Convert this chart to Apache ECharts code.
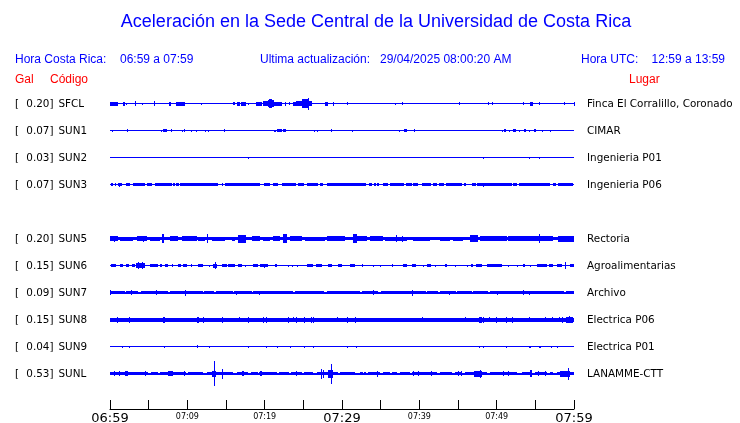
<!DOCTYPE html>
<html><head><meta charset="utf-8">
<script src="https://cdn.jsdelivr.net/npm/echarts@6/dist/echarts.min.js"></script>
<style>html,body{margin:0;padding:0;background:#fff}#c{width:740px;height:423px}</style>
</head><body><div id="c"></div><script>
// ---------- data ----------
const codes   = ['SFCL','SUN1','SUN2','SUN3','SUN4','SUN5','SUN6','SUN7','SUN8','SUN9','SUNL'];
const peakGal = [0.20, 0.07, 0.03, 0.07, null, 0.20, 0.15, 0.09, 0.15, 0.04, 0.53];
const places  = ['Finca El Corralillo, Coronado','CIMAR','Ingenieria P01','Ingenieria P06','','Rectoria','Agroalimentarias','Archivo','Electrica P06','Electrica P01','LANAMME-CTT'];
const tickLabels = ['06:59','','07:09','','07:19','','07:29','','07:39','','07:49','','07:59'];
// continuous background half-amplitude of each trace (Gal, display scale); null = no trace
const baseAmp = [0.022, 0.022, 0.022, 0.025, null, 0.065, 0.025, 0.045, 0.09, 0.022, 0.035];
// envelope events: [startMinute, endMinute, halfAmplitude] (minutes after 06:59)
const evSFCL = [[0,1.03,0.08],[1.68,1.94,0.08],[2.07,2.07,0.05],[3.23,3.23,0.1],[4.18,4.18,0.04],[5.73,5.73,0.1],[7.67,7.9,0.08],[8.53,9.7,0.09],[11.77,11.77,0.04],[15.87,16.16,0.06],[16.46,16.8,0.08],[16.94,17.59,0.08],[17.89,17.89,0.04],[18.84,19.62,0.09],[19.79,20.39,0.1],[20.39,20.6,0.16],[20.6,21.0,0.2],[21.0,21.25,0.15],[21.25,22.24,0.09],[22.63,22.63,0.08],[23.19,23.19,0.07],[23.63,24.05,0.09],[24.05,24.83,0.12],[24.83,25.73,0.19],[25.6,25.6,0.26],[25.73,26.08,0.1],[27.8,28.15,0.08],[28.8,28.8,0.08],[30.65,30.65,0.07],[36.85,36.85,0.04],[37.76,37.76,0.07],[45.13,45.13,0.07],[48.88,48.88,0.06],[49.4,49.4,0.07],[53.4,53.4,0.07],[54.31,54.7,0.09],[55.48,55.48,0.07],[58.71,58.71,0.07],[60,60,0.08]];
const evSUN1 = [[0.3,0.3,0.04],[2.24,2.24,0.06],[6.6,6.76,0.05],[6.85,7.37,0.065],[7.93,7.93,0.06],[9.35,9.35,0.05],[9.61,9.61,0.06],[10.51,10.51,0.05],[11.12,11.12,0.04],[12.32,12.32,0.05],[12.71,12.71,0.04],[14.78,14.78,0.06],[21.25,21.43,0.05],[21.63,22.2,0.065],[22.37,22.76,0.065],[26.42,26.42,0.04],[26.81,26.81,0.04],[28.62,28.62,0.06],[31.33,31.33,0.04],[37.41,37.41,0.04],[38.06,38.37,0.065],[39.27,39.27,0.075],[50.65,50.65,0.04],[50.91,51.21,0.065],[51.6,51.6,0.05],[52.07,52.46,0.065],[52.92,52.92,0.04],[53.54,53.79,0.06],[54.18,54.18,0.05],[54.83,55.05,0.06],[55.9,55.9,0.04],[56.94,56.94,0.05]];
const evSUN2 = [[17.8,17.8,0.045],[26.3,26.3,0.03],[48.27,48.27,0.045],[54.2,54.35,0.035],[55.5,55.65,0.035]];
const evSUN3 = [[0.09,0.43,0.065],[0.65,0.78,0.065],[0.99,1.59,0.065],[2.03,2.59,0.065],[2.93,4.53,0.065],[4.74,5.39,0.065],[5.82,7.97,0.065],[8.19,8.41,0.065],[8.53,8.92,0.065],[9.1,14.01,0.065],[14.44,14.65,0.065],[14.87,19.4,0.065],[19.96,20.73,0.065],[21.04,21.77,0.065],[22.2,24.05,0.065],[24.35,25.13,0.065],[25.47,26.94,0.065],[27.16,27.58,0.065],[28.02,33.1,0.065],[33.53,33.84,0.065],[34.18,34.4,0.065],[34.57,34.82,0.065],[35.26,35.91,0.065],[36.21,38.02,0.065],[38.24,39.01,0.065],[39.22,39.87,0.065],[40.31,41.47,0.065],[41.81,42.24,0.065],[42.54,43.19,0.065],[43.45,45.48,0.065],[45.78,46.04,0.065],[46.77,47.33,0.065],[47.5,51.95,0.065],[52.16,52.59,0.065],[52.85,56.9,0.065],[57.33,57.68,0.065],[57.97,59.91,0.065],[48.27,48.27,0.09],[1.2,1.2,0.08]];
const evSUN5 = [[0,1.08,0.1],[0.5,0.5,0.13],[1.29,3.02,0.09],[3.45,4.74,0.1],[4.3,4.3,0.13],[5.17,6.47,0.09],[6.68,6.94,0.2],[7.76,8.84,0.12],[9.27,11.21,0.1],[11.42,12.28,0.08],[12.5,12.71,0.19],[13.15,14.87,0.08],[15.74,16.16,0.09],[16.51,17.55,0.17],[18.32,19.4,0.1],[19.83,20.69,0.08],[21.12,21.98,0.1],[22.41,22.85,0.19],[23.28,24.79,0.12],[25.22,27.8,0.08],[28.02,30.39,0.1],[31.46,31.98,0.19],[31.98,33.2,0.1],[33.62,35.35,0.1],[35.56,38.37,0.09],[36.98,36.98,0.15],[37.72,37.72,0.14],[39.22,41.38,0.08],[42.67,43.97,0.09],[44.39,45.69,0.09],[46.55,47.63,0.15],[47.85,51.3,0.1],[51.51,53.89,0.1],[53.89,57.33,0.1],[55.52,55.52,0.19],[57.97,60,0.13]];
const evSUN6 = [[0.13,0.73,0.065],[1.29,1.72,0.065],[2.03,2.46,0.065],[2.8,3.23,0.065],[3.32,4.53,0.1],[3.6,3.6,0.15],[4.2,4.2,0.15],[5.17,6.25,0.065],[6.47,6.68,0.065],[7.11,7.46,0.065],[7.97,7.97,0.06],[8.75,9.18,0.065],[9.48,9.92,0.065],[10.47,10.47,0.06],[11.42,12.07,0.065],[12.8,12.8,0.04],[13.36,13.8,0.08],[13.58,13.58,0.15],[14.53,15.09,0.065],[15.3,16.16,0.065],[16.6,17.03,0.065],[17.46,17.46,0.04],[18.53,19.18,0.065],[19.4,20.47,0.065],[19.9,19.9,0.09],[21.34,21.55,0.065],[22.98,22.98,0.05],[23.5,23.5,0.05],[24.14,24.14,0.05],[25.43,26.29,0.065],[26.64,27.37,0.065],[28.23,28.67,0.065],[29.52,30.04,0.065],[31.03,31.68,0.065],[32.55,32.55,0.06],[33.97,33.97,0.04],[34.91,34.91,0.04],[36.42,36.42,0.06],[37.85,38.37,0.065],[39.01,39.57,0.065],[40.43,40.43,0.05],[41.03,41.47,0.065],[42.03,42.03,0.05],[43.32,43.54,0.065],[44.61,44.61,0.05],[46.21,46.21,0.05],[46.64,46.98,0.065],[47.33,48.07,0.065],[48.71,50.65,0.065],[51.51,51.51,0.05],[52.59,52.59,0.05],[53.37,53.67,0.065],[54.31,54.31,0.05],[55.18,56.47,0.065],[56.81,57.33,0.065],[57.85,58.41,0.065],[58.88,58.88,0.16],[59.49,60,0.065]];
const evSUN7 = [[0,1.94,0.07],[2.07,3.66,0.07],[4.01,7.54,0.07],[7.76,12.07,0.07],[12.2,13.49,0.07],[13.67,15.95,0.07],[16.08,18.32,0.07],[18.53,23.71,0.07],[23.92,27.67,0.07],[28.02,32.33,0.07],[32.55,34.7,0.07],[35.0,40.86,0.07],[41.03,42.45,0.07],[42.67,44.74,0.07],[44.91,46.77,0.07],[46.9,48.92,0.07],[49.14,58.71,0.07],[58.97,60,0.07],[0,0.15,0.11],[2.7,2.7,0.11],[5.9,5.9,0.11],[9.7,9.7,0.13],[16.25,16.25,0.09],[19.27,19.27,0.09],[34.05,34.05,0.11],[39.01,39.01,0.13],[43.88,43.88,0.09],[50,50,0.09],[53.37,53.37,0.1],[54.23,54.23,0.09]];
const evSUN8 = [[0.86,0.86,0.14],[2.5,2.5,0.14],[6.9,7.11,0.14],[11.21,11.51,0.14],[12.07,12.07,0.13],[14.53,14.53,0.13],[16.72,16.72,0.12],[17.8,17.97,0.14],[19.83,19.83,0.13],[20.13,20.13,0.13],[23.06,23.06,0.13],[23.71,23.71,0.12],[24.01,24.01,0.13],[25.13,25.13,0.13],[25.95,25.95,0.13],[26.29,26.29,0.13],[29.39,29.39,0.12],[30.69,30.69,0.14],[31.68,31.68,0.13],[40.31,40.31,0.11],[45.91,45.91,0.12],[47.76,48.07,0.14],[48.27,48.27,0.13],[49.05,49.05,0.12],[49.92,49.92,0.13],[51.17,51.17,0.13],[51.98,51.98,0.13],[54.23,54.23,0.12],[56.25,56.25,0.12],[57.12,57.12,0.12],[58.1,58.1,0.12],[58.41,58.41,0.13],[58.97,59.91,0.13],[59.3,59.3,0.15]];
const evSUN9 = [[1.51,1.51,0.04],[2.5,2.5,0.05],[6.98,6.98,0.05],[11.21,11.42,0.06],[12.84,12.84,0.05],[17.89,17.89,0.05],[20.13,20.13,0.04],[21.55,21.55,0.05],[23.28,23.28,0.04],[25.13,25.13,0.04],[26.29,26.29,0.05],[30.69,30.69,0.05],[31.77,31.77,0.05],[47.76,47.76,0.05],[48.27,48.27,0.05],[51.17,51.17,0.04],[54.23,54.4,0.05],[55.52,55.7,0.05],[57.03,57.03,0.04],[57.76,57.76,0.04]];
const evSUNL = [[0,4.96,0.065],[5.3,6.25,0.065],[6.47,9.83,0.065],[10.13,12.07,0.065],[12.5,15.95,0.065],[16.38,17.89,0.065],[18.23,19.1,0.065],[19.27,21.55,0.065],[21.85,23.19,0.065],[23.41,24.79,0.065],[25.13,26.29,0.065],[26.73,29.52,0.065],[29.74,31.68,0.065],[32.33,32.67,0.065],[32.85,33.1,0.065],[33.4,34.91,0.065],[35.35,36.21,0.065],[36.42,37.07,0.065],[37.5,38.79,0.065],[39.01,42.24,0.065],[42.67,44.18,0.065],[44.61,45.48,0.065],[45.91,48.71,0.065],[49.14,52.59,0.065],[53.24,54.53,0.065],[54.96,56.47,0.065],[56.9,57.33,0.065],[57.76,60,0.065],
  [0.56,0.56,0.11],[1.16,1.16,0.11],[1.94,2.37,0.1],[4.53,4.53,0.11],[7.54,8.19,0.1],[9.61,9.61,0.11],[13.23,13.67,0.13],[13.49,13.49,0.55],[14.53,14.53,0.22],[17.03,17.37,0.1],[19.4,19.62,0.1],[24.01,24.01,0.1],[27.28,27.28,0.22],[27.6,27.6,0.17],[28.15,28.88,0.17],[28.53,28.53,0.44],[34.57,34.57,0.13],[39.22,39.22,0.11],[39.87,39.87,0.1],[41.47,41.47,0.1],[45.04,45.04,0.1],[45.35,45.35,0.1],[47.07,48.07,0.13],[47.85,47.85,0.17],[50.78,50.78,0.1],[51.51,51.51,0.1],[54.31,54.53,0.16],[55.31,55.31,0.1],[56.25,56.25,0.1],[58.19,59.49,0.13],[59.27,59.27,0.27]];
const stationEvents = [evSFCL, evSUN1, evSUN2, evSUN3, null, evSUN5, evSUN6, evSUN7, evSUN8, evSUN9, evSUNL];

// ---------- layout / style ----------
const ROW = 1.2;           // Gal between trace baselines
const BLUE = '#0000ff';
const TXT = '"DejaVu Sans", sans-serif';
const HDR = '"Liberation Sans", Arial, sans-serif';

const chart = echarts.init(document.getElementById('c'), null, {renderer: 'canvas'});

function traceSeries(i) {
  const data = [[0, 60, baseAmp[i]]].concat(stationEvents[i]);
  return {
    type: 'custom', name: codes[i], data: data, silent: true,
    encode: {x: [0, 1]},
    renderItem: function (params, api) {
      const yc = -i * ROW;
      const p0 = api.coord([api.value(0), yc]);
      const p1 = api.coord([api.value(1), yc]);
      const hp = api.size([0, api.value(2)])[1];
      const x = Math.round(p0[0]);
      const w = Math.max(1, Math.round(p1[0]) - x);
      const h = Math.max(1, Math.round(2 * hp));
      const y = Math.round(p0[1] - h / 2);
      return {type: 'rect', shape: {x: x, y: y, width: w, height: h}, style: {fill: BLUE}};
    }
  };
}

const series = [];
codes.forEach(function (c, i) { if (baseAmp[i] !== null) series.push(traceSeries(i)); });

chart.setOption({
  animation: false,
  backgroundColor: '#fff',
  grid: {left: 110, right: 166, top: 90, height: 297, containLabel: false, outerBoundsMode: 'none'},
  xAxis: {
    type: 'value', min: 0, max: 60, interval: 5, offset: 22,
    axisLine: {show: true, onZero: false, lineStyle: {color: '#000', width: 1}},
    axisTick: {show: true, inside: true, length: 9, interval: 0, lineStyle: {color: '#000', width: 1}},
    splitLine: {show: false},
    axisLabel: {
      show: true, margin: 2, showMinLabel: true, showMaxLabel: true, hideOverlap: false,
      formatter: function (v) {
        const k = Math.round(v / 5);
        const s = tickLabels[k];
        if (!s) return '';
        return (k % 6 === 0) ? '{b|' + s + '}' : '{s|' + s + '}';
      },
      rich: {
        b: {fontSize: 13, lineHeight: 15, fontFamily: TXT, color: '#000'},
        s: {fontSize: 8, lineHeight: 11, fontFamily: TXT, color: '#000'}
      }
    }
  },
  yAxis: {type: 'value', min: -12.6, max: 0.6, show: false, splitLine: {show: false}},
  series: series
});

// ---------- texts ----------
const g = [];
function txt(text, x, y, opt) {
  g.push({type: 'text', x: x, y: y, silent: true,
    style: Object.assign({text: text, fill: '#000', font: '10.4px ' + TXT, align: 'left', verticalAlign: 'middle'}, opt || {})});
}
txt('Aceleración en la Sede Central de la Universidad de Costa Rica', 376, 22, {fill: BLUE, font: '18px ' + HDR, align: 'center'});
txt('Hora Costa Rica:', 15, 60, {fill: BLUE, font: '12px ' + HDR});
txt('06:59 a 07:59', 120, 60, {fill: BLUE, font: '12px ' + HDR});
txt('Ultima actualización:', 260, 60, {fill: BLUE, font: '12px ' + HDR});
txt('29/04/2025 08:00:20 AM', 380, 60, {fill: BLUE, font: '12px ' + HDR});
txt('Hora UTC:', 581, 60, {fill: BLUE, font: '12px ' + HDR});
txt('12:59 a 13:59', 725, 60, {fill: BLUE, font: '12px ' + HDR, align: 'right'});
txt('Gal', 15, 80, {fill: '#ff0000', font: '12px ' + HDR});
txt('Código', 50, 80, {fill: '#ff0000', font: '12px ' + HDR});
txt('Lugar', 629, 80, {fill: '#ff0000', font: '12px ' + HDR});

codes.forEach(function (c, i) {
  if (peakGal[i] === null) return;
  const y = chart.convertToPixel({gridIndex: 0}, [0, -i * ROW])[1] + 0.5;
  txt('[', 15, y);
  txt(peakGal[i].toFixed(2) + ']', 53.5, y, {align: 'right'});
  txt(c, 58.5, y);
  txt(places[i], 587, y);
});
chart.setOption({graphic: g});
</script></body></html>
